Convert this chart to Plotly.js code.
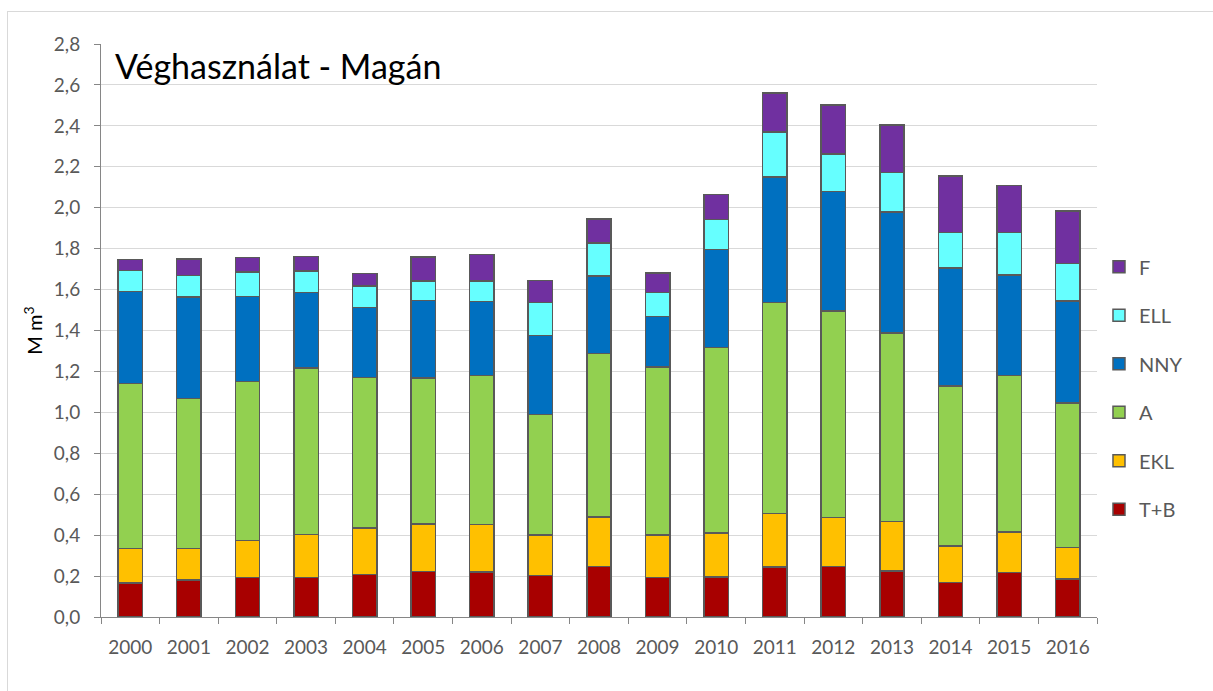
<!DOCTYPE html>
<html>
<head>
<meta charset="utf-8">
<script src="https://cdn.plot.ly/plotly-3.0.1.min.js"></script>
<style>
  html, body { margin: 0; padding: 0; background: #ffffff; }
  #frame { position: absolute; left: 7px; top: 11px; width: 1400px; height: 900px; border: 1px solid #d9d9d9; box-sizing: border-box; }
  #chart { position: absolute; left: 0; top: 0; width: 1213px; height: 691px; }
</style>
</head>
<body>
<div id="frame"></div>
<div id="chart"></div>
<script>
// Years (categories)
const years = ['2000','2001','2002','2003','2004','2005','2006','2007','2008','2009','2010','2011','2012','2013','2014','2015','2016'];

// Series values (M m3)
const tb  = [0.167, 0.180, 0.193, 0.192, 0.207, 0.223, 0.221, 0.204, 0.248, 0.192, 0.195, 0.244, 0.246, 0.226, 0.169, 0.218, 0.185];
const ekl = [0.168, 0.155, 0.181, 0.211, 0.229, 0.232, 0.231, 0.197, 0.241, 0.209, 0.215, 0.261, 0.240, 0.240, 0.177, 0.198, 0.154];
const a   = [0.806, 0.732, 0.777, 0.815, 0.735, 0.712, 0.727, 0.589, 0.798, 0.820, 0.906, 1.031, 1.010, 0.921, 0.783, 0.763, 0.706];
const nny = [0.449, 0.497, 0.415, 0.367, 0.341, 0.379, 0.362, 0.385, 0.379, 0.248, 0.479, 0.614, 0.584, 0.592, 0.577, 0.493, 0.498];
const ell = [0.103, 0.106, 0.119, 0.106, 0.106, 0.096, 0.101, 0.162, 0.161, 0.117, 0.148, 0.220, 0.182, 0.193, 0.173, 0.207, 0.185];
const f   = [0.055, 0.080, 0.071, 0.070, 0.060, 0.116, 0.130, 0.108, 0.118, 0.095, 0.122, 0.191, 0.241, 0.232, 0.275, 0.229, 0.255];

const seriesNames = ['T+B', 'EKL', 'A', 'NNY', 'ELL', 'F'];
const seriesData = [tb, ekl, a, nny, ell, f];
const seriesColors = ['#A80000', '#FFC000', '#92D050', '#0070C0', '#66FFFF', '#7030A0'];

const traces = seriesNames.map((name, i) => ({
  type: 'bar',
  name: name,
  x: years,
  y: seriesData[i],
  legendgroup: name,
  legendrank: seriesNames.length - i,
  marker: { color: seriesColors[i], line: { color: '#595959', width: 1.5 } },
  hoverinfo: 'x+y+name'
}));

const font = "Lato, 'Open Sans', sans-serif";

const layout = {
  width: 1213,
  height: 691,
  paper_bgcolor: 'rgba(0,0,0,0)',
  plot_bgcolor: 'rgba(0,0,0,0)',
  separators: ', ',
  barmode: 'stack',
  bargap: 0.584,
  margin: { l: 101, r: 116, t: 44, b: 74 },
  font: { family: font, color: '#595959', size: 18 },
  title: {
    text: 'Véghasználat - Magán',
    font: { family: font, size: 34, color: '#000000' },
    xref: 'container', x: 115 / 1213, xanchor: 'left',
    yref: 'container', y: 1 - 67 / 691, yanchor: 'middle'
  },
  xaxis: {
    type: 'category',
    showgrid: false,
    showline: true,
    linecolor: '#868686',
    linewidth: 1,
    ticks: 'outside',
    tickson: 'boundaries',
    ticklen: 6,
    tickcolor: '#868686',
    ticklabelstandoff: 13,
    tickfont: { family: font, size: 19, color: '#595959' },
    fixedrange: true
  },
  yaxis: {
    range: [0, 2.8],
    dtick: 0.2,
    tick0: 0,
    tickformat: '.1f',
    showgrid: true,
    gridcolor: '#d9d9d9',
    gridwidth: 1,
    zeroline: false,
    showline: true,
    linecolor: '#868686',
    linewidth: 1,
    ticks: 'outside',
    ticklen: 6,
    tickcolor: '#868686',
    ticklabelstandoff: 10,
    tickfont: { family: font, size: 19, color: '#595959' },
    title: { text: 'M m<sup>3</sup>', font: { family: font, size: 20, color: '#000000' }, standoff: 5 },
    fixedrange: true
  },
  legend: {
    traceorder: 'grouped',
    tracegroupgap: 19.5,
    x: 1.002, xanchor: 'left',
    y: 0.399, yanchor: 'middle',
    font: { family: font, size: 20, color: '#595959' },
    bgcolor: 'rgba(0,0,0,0)',
    itemwidth: 30
  },
  showlegend: true
};

Plotly.newPlot('chart', traces, layout, { displayModeBar: false, staticPlot: true });
</script>
</body>
</html>
